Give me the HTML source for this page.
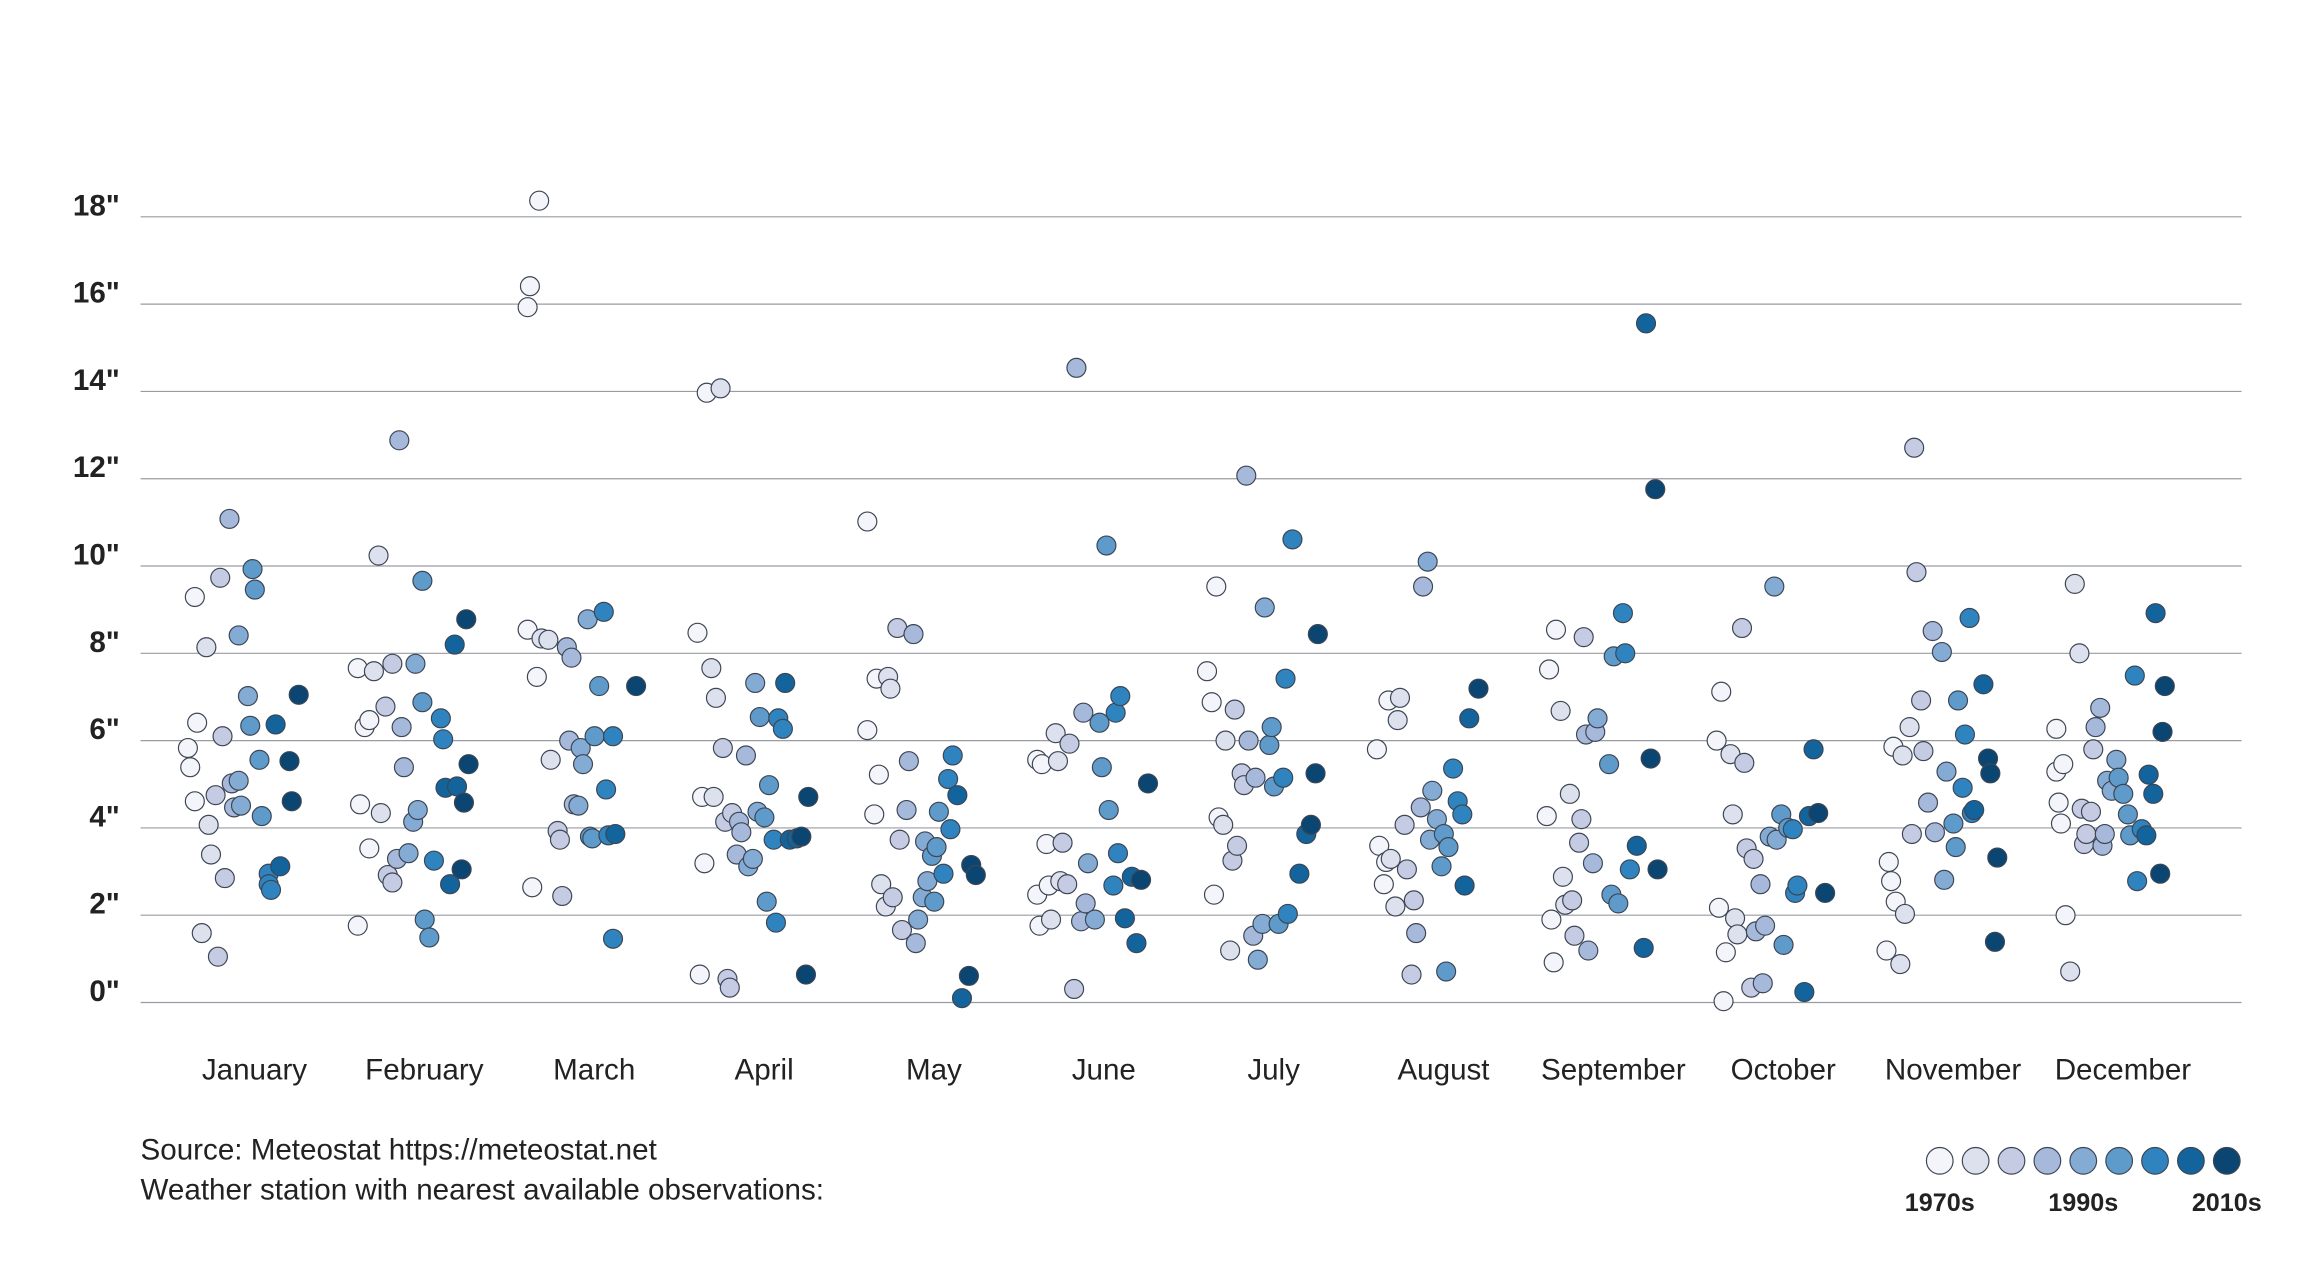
<!DOCTYPE html>
<html><head><meta charset="utf-8"><style>
html,body{margin:0;padding:0;background:#fff;}
svg{display:block;font-family:"Liberation Sans",sans-serif;}
</style></head><body>
<svg id="chart" width="2320" height="1280" viewBox="0 0 1568 864" xmlns="http://www.w3.org/2000/svg">
<rect x="0" y="0" width="1568" height="864" fill="#ffffff"/>
<g id="grid"></g>
<g id="ylabels"></g>
<g id="xlabels"></g>
<g id="points"></g>
<text x="95" y="783" font-size="20" fill="#222">Source: Meteostat https://meteostat.net</text>
<text x="95" y="810" font-size="20" fill="#222">Weather station with nearest available observations:</text>
<g id="legend"></g>
</svg>
<script>
const months = ["January","February","March","April","May","June","July","August","September","October","November","December"];
const yTicks = [0,2,4,6,8,10,12,14,16,18];
const yTickLabels = ['0"','2"','4"','6"','8"','10"','12"','14"','16"','18"'];
const legendLabels = ["1970s","1990s","2010s"];
const baseYear = 1973;
const values = [
[5.83,5.39,6.41,9.29,4.61,8.14,4.07,3.39,1.05,1.59,9.73,6.10,2.85,11.08,5.02,4.47,5.08,4.51,8.41,7.02,6.34,9.93,9.46,5.56,4.27,2.95,2.71,2.58,6.37,3.12,5.53,4.61,7.05,4.75],
[1.76,7.66,4.54,6.31,6.47,3.53,7.59,10.24,4.34,6.78,2.92,7.76,2.75,3.29,12.88,6.31,5.39,3.42,4.14,7.76,4.41,6.88,9.66,1.9,1.49,3.25,6.51,6.03,4.92,2.71,8.2,4.95,3.05,4.58,8.78,5.46],
[15.93,16.41,18.37,8.54,2.64,7.46,8.34,8.31,5.56,3.93,3.73,2.44,8.14,6.0,7.9,4.54,4.51,5.83,5.46,8.78,3.8,3.76,6.1,7.25,8.95,4.88,3.83,6.1,3.86,1.46,7.25],
[8.47,0.64,4.71,3.19,13.97,7.66,4.71,6.98,14.07,5.83,4.14,0.54,0.34,4.34,3.39,4.14,3.9,5.66,3.12,3.29,7.32,4.37,6.54,4.24,2.31,4.98,3.73,1.83,6.51,6.27,7.32,3.73,3.76,3.8,0.64,4.71],
[11.02,6.24,7.42,4.31,5.22,2.71,2.2,7.46,7.19,2.41,8.58,3.73,1.66,4.41,5.53,8.44,1.36,1.9,2.41,3.69,2.78,3.36,2.31,3.56,4.37,2.95,5.12,3.97,5.66,4.75,0.1,0.61,3.15,2.92],
[5.56,2.47,1.76,5.46,3.63,2.68,1.9,6.17,5.53,2.78,3.66,2.71,5.93,0.31,14.54,1.86,6.64,2.27,3.19,1.9,6.41,5.39,10.47,4.41,2.68,6.64,3.42,7.02,1.93,2.88,1.36,2.81,5.02],
[7.59,6.88,2.47,9.53,4.24,4.07,6.0,1.19,3.25,6.71,3.59,5.25,4.98,12.07,6.0,1.53,5.15,0.98,1.8,9.05,5.9,6.31,4.95,1.8,5.15,7.42,2.03,10.61,2.95,3.86,4.07,5.25,8.44],
[5.8,3.59,2.71,3.22,6.92,3.29,2.2,6.47,6.98,4.07,3.05,0.64,2.34,1.59,4.47,9.53,10.1,3.73,4.85,4.2,3.12,3.86,0.71,3.56,5.36,4.61,4.31,2.68,6.51,7.19],
[4.27,7.63,1.9,0.92,8.54,6.68,2.88,2.24,4.78,2.34,1.53,3.66,4.2,8.37,6.14,1.19,3.19,6.2,6.51,5.46,2.47,7.93,2.27,8.92,8.0,3.05,3.59,1.25,15.56,5.59,11.76,3.05],
[6.0,2.17,7.12,0.03,1.15,5.69,4.31,1.93,1.56,8.58,5.49,3.53,0.34,3.29,1.63,2.71,0.44,1.76,3.8,9.53,3.73,4.31,1.32,4.0,3.97,2.51,2.68,0.24,4.27,5.8,4.34,2.51],
[1.19,3.22,2.78,5.86,2.31,0.88,5.66,2.03,6.31,3.86,12.71,9.86,6.92,5.76,4.58,8.51,3.9,8.03,2.81,5.29,4.1,3.56,6.92,4.92,6.14,8.81,4.34,4.41,7.29,5.59,5.25,1.39,3.32],
[6.27,5.29,4.58,4.1,5.46,2.0,0.71,9.59,8.0,4.44,3.63,3.86,4.37,5.8,6.31,6.75,3.59,3.86,5.08,4.85,5.56,5.15,4.78,4.31,3.83,7.49,2.78,3.97,3.83,5.22,4.78,8.92,2.95,6.2,7.25]
];
const yearsSince1973 = [
[0,1,4,3,3,8,9,10,13,6,14,15,16,18,19,20,22,23,22,26,27,28,29,31,32,35,35,36,38,40,44,45,48,12],
[0,0,1,3,5,5,7,9,10,12,13,15,15,17,18,19,20,22,24,25,26,28,28,29,31,33,36,37,38,40,42,43,45,46,47,48],
[0,1,5,0,2,4,6,9,10,13,14,15,17,18,19,20,22,23,24,26,27,28,29,31,33,34,35,37,38,37,47],
[0,1,2,3,4,6,7,8,10,11,12,13,14,15,17,18,19,21,22,24,25,26,27,29,30,31,33,34,35,37,38,40,43,45,47,48],
[0,0,4,3,5,6,8,9,10,11,13,14,15,17,18,20,21,22,24,25,26,28,29,30,31,33,35,36,37,39,41,44,45,47],
[0,0,1,2,4,5,6,8,9,10,11,13,14,16,17,19,20,21,22,25,27,28,30,31,33,34,35,36,38,41,43,45,48],
[0,2,3,4,5,7,8,10,11,12,13,15,16,17,18,20,21,22,24,25,27,28,29,31,33,34,35,37,40,43,45,47,48],
[0,1,3,4,5,6,8,9,10,12,13,15,16,17,19,20,22,23,24,26,28,29,30,31,33,35,37,38,40,44],
[0,1,2,3,4,6,7,8,10,11,12,14,15,16,17,18,20,21,22,27,28,29,31,33,34,36,39,42,43,45,47,48],
[0,1,2,3,4,6,7,8,9,11,12,13,15,16,17,19,20,21,23,25,26,28,29,31,33,34,35,38,40,42,44,47],
[0,1,2,3,4,6,7,8,10,11,12,13,15,16,18,20,21,24,25,26,29,30,31,33,34,36,37,38,42,44,45,47,48],
[0,0,1,2,3,4,6,8,10,11,12,13,15,16,17,19,20,21,22,24,26,27,29,31,32,34,35,37,39,40,42,43,45,46,47]
];
const palette = ["#f4f5fa","#dde1ee","#c4cbe2","#a6b9da","#84abd4","#5e9bcb","#2f84bf","#13649c","#0b4571"];
const NS = "http://www.w3.org/2000/svg";
const xLeft = 95, xRight = 1515, y0 = 677, pxPerInch = 29.5;
function yScale(v){ return y0 - v * pxPerInch; }
function monthCenter(i){ return 172 + i * 114.8; }
function yearOffset(k){ return -45 + k * 1.56; }
function colorFor(k){ return palette[Math.min(8, Math.floor(k / 5.4))]; }
function mk(tag, attrs){ const e = document.createElementNS(NS, tag); for (const a in attrs) e.setAttribute(a, attrs[a]); return e; }
const grid = document.getElementById('grid');
const yl = document.getElementById('ylabels');
yTicks.forEach((t, i) => {
  const y = yScale(t);
  const l = mk('line', {x1: xLeft, x2: xRight, y1: y, y2: y, stroke: '#9a9ca3', 'stroke-width': 0.8});
  
  
  grid.appendChild(l);
  const tx = mk('text', {x: 81, y: y - 1, 'text-anchor': 'end', 'font-size': 20, 'font-weight': 'bold', fill: '#222'});
  tx.textContent = yTickLabels[i];
  
  
  yl.appendChild(tx);
});
const xl = document.getElementById('xlabels');
months.forEach((m, i) => {
  const tx = mk('text', {x: monthCenter(i), y: 729, 'text-anchor': 'middle', 'font-size': 20, fill: '#222'});
  tx.textContent = m;
  
  
  xl.appendChild(tx);
});
const pts = document.getElementById('points');
values.forEach((arr, m) => {
  arr.forEach((v, j) => {
    const k = yearsSince1973[m][j];
    const c = mk('circle', {cx: monthCenter(m) + yearOffset(k), cy: yScale(v), r: 6.4, fill: colorFor(k), stroke: '#3d4654', 'stroke-width': 0.8});
    
    
    const ti = mk('title', {}); ti.textContent = months[m] + ' ' + (baseYear + k) + ': ' + v + '"';
    c.appendChild(ti);
    pts.appendChild(c);
  });
});
const lg = document.getElementById('legend');
palette.forEach((col, i) => {
  const c = mk('circle', {cx: 1311 + i * 24.25, cy: 784, r: 9, fill: col, stroke: '#3d4654', 'stroke-width': 0.8});
  
  
  lg.appendChild(c);
});
legendLabels.forEach((t, i) => {
  const tx = mk('text', {x: 1311 + i * 97, y: 818, 'text-anchor': 'middle', 'font-size': 17, 'font-weight': 'bold', fill: '#222'});
  tx.textContent = t;
  
  
  lg.appendChild(tx);
});
</script>
</body></html>
